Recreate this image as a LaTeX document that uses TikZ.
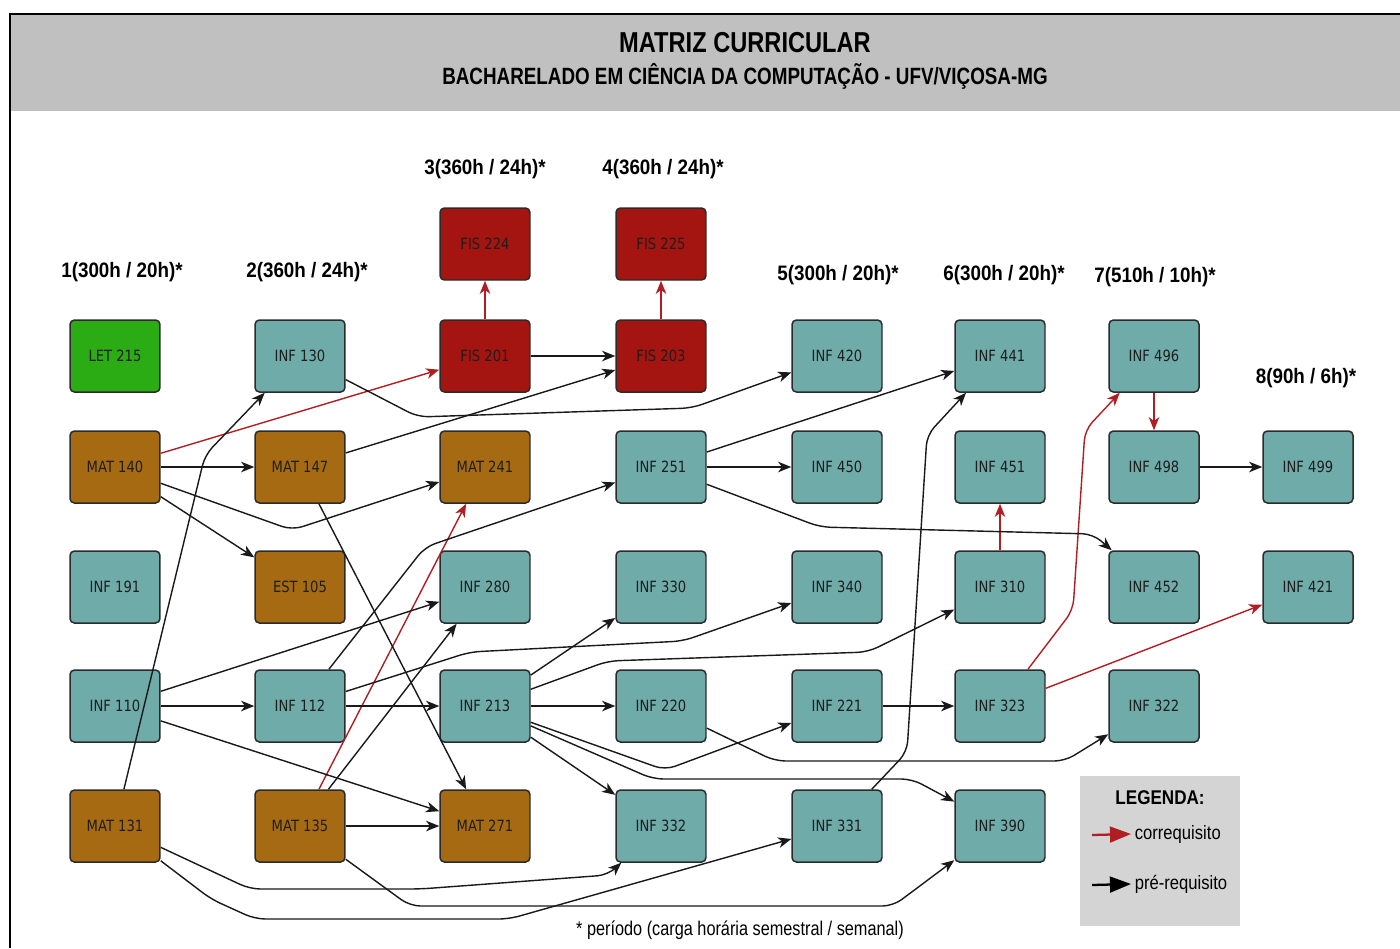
\documentclass[tikz,border=0pt]{standalone}
\usepackage{fontspec}
\setmainfont{Liberation Sans}
\newfontfamily\headfont[FakeStretch=0.82]{Liberation Sans}
\newfontfamily\subheadfont[FakeStretch=0.80]{Liberation Sans}
\newfontfamily\periodfont[FakeStretch=0.9]{Liberation Sans}
\newfontfamily\legendfont[FakeStretch=0.86]{Liberation Sans}
\newfontfamily\coursefont[FakeStretch=0.85]{DejaVu Sans}
\usetikzlibrary{arrows.meta}

\definecolor{infcol}{HTML}{6EABA9}
\definecolor{matcol}{HTML}{A66B12}
\definecolor{fiscol}{HTML}{A41410}
\definecolor{letcol}{HTML}{2BAB14}
\definecolor{boxline}{HTML}{2B2B2B}
\definecolor{boxtext}{HTML}{1E1E1E}
\definecolor{coreqcol}{HTML}{B01E23}
\definecolor{headgray}{HTML}{C0C0C0}
\definecolor{legendgray}{HTML}{D4D4D4}

\tikzset{
	course/.style={draw=boxline, line width=0.85pt, rounded corners=2.5pt, minimum width=1.8cm, minimum height=1.44cm, inner sep=0pt, text=boxtext, font=\coursefont\fontsize{8.8}{10}\selectfont},
	infbox/.style={course, fill=infcol},
	matbox/.style={course, fill=matcol},
	fisbox/.style={course, fill=fiscol},
	letbox/.style={course, fill=letcol},
	periodlabel/.style={font=\periodfont\bfseries\fontsize{11.9}{14}\selectfont},
	prereq/.style={draw=black!90, line width=0.8pt, rounded corners=6pt, -{Stealth[length=7.5pt,width=6pt,inset=2.2pt]}},
	coreq/.style={prereq, draw=coreqcol},
	legendtext/.style={font=\legendfont\fontsize{11}{13}\selectfont, inner sep=2pt}
}

\begin{document}
\begin{tikzpicture}[x=0.02cm, y=-0.02cm]
	%%%%% START %%%%%
	\useasboundingbox (0,0) rectangle (1400,948);
	
	\fill[headgray] (10,14) rectangle (1400,111);
	\draw[line width=1.1pt] (10,948) -- (10,14) -- (1400,14);
	
	\node[font=\headfont\bfseries\fontsize{16.4}{19}\selectfont] (title) at (745,43) {MATRIZ CURRICULAR};
	\node[font=\subheadfont\bfseries\fontsize{13.4}{16}\selectfont] (subtitle) at (745,76) {BACHARELADO EM CIÊNCIA DA COMPUTAÇÃO - UFV/VIÇOSA-MG};
	
	%%%%% PERIODS %%%%%
	\node[periodlabel] (per1) at (122,272) {1(300h / 20h)*};
	\node[periodlabel] (per2) at (307,272) {2(360h / 24h)*};
	\node[periodlabel] (per3) at (485,169) {3(360h / 24h)*};
	\node[periodlabel] (per4) at (663,169) {4(360h / 24h)*};
	\node[periodlabel] (per5) at (838,275) {5(300h / 20h)*};
	\node[periodlabel] (per6) at (1004,275) {6(300h / 20h)*};
	\node[periodlabel] (per7) at (1155,277) {7(510h / 10h)*};
	\node[periodlabel] (per8) at (1306,378) {8(90h / 6h)*};
	
	%%%%% COURSES %%%%%
	\node[letbox] (let215) at (115,356) {LET 215};
	\node[matbox] (mat140) at (115,467) {MAT 140};
	\node[infbox] (inf191) at (115,587) {INF 191};
	\node[infbox] (inf110) at (115,706) {INF 110};
	\node[matbox] (mat131) at (115,826) {MAT 131};
	
	\node[infbox] (inf130) at (300,356) {INF 130};
	\node[matbox] (mat147) at (300,467) {MAT 147};
	\node[matbox] (est105) at (300,587) {EST 105};
	\node[infbox] (inf112) at (300,706) {INF 112};
	\node[matbox] (mat135) at (300,826) {MAT 135};
	
	\node[fisbox] (fis224) at (485,244) {FIS 224};
	\node[fisbox] (fis201) at (485,356) {FIS 201};
	\node[matbox] (mat241) at (485,467) {MAT 241};
	\node[infbox] (inf280) at (485,587) {INF 280};
	\node[infbox] (inf213) at (485,706) {INF 213};
	\node[matbox] (mat271) at (485,826) {MAT 271};
	
	\node[fisbox] (fis225) at (661,244) {FIS 225};
	\node[fisbox] (fis203) at (661,356) {FIS 203};
	\node[infbox] (inf251) at (661,467) {INF 251};
	\node[infbox] (inf330) at (661,587) {INF 330};
	\node[infbox] (inf220) at (661,706) {INF 220};
	\node[infbox] (inf332) at (661,826) {INF 332};
	
	\node[infbox] (inf420) at (837,356) {INF 420};
	\node[infbox] (inf450) at (837,467) {INF 450};
	\node[infbox] (inf340) at (837,587) {INF 340};
	\node[infbox] (inf221) at (837,706) {INF 221};
	\node[infbox] (inf331) at (837,826) {INF 331};
	
	\node[infbox] (inf441) at (1000,356) {INF 441};
	\node[infbox] (inf451) at (1000,467) {INF 451};
	\node[infbox] (inf310) at (1000,587) {INF 310};
	\node[infbox] (inf323) at (1000,706) {INF 323};
	\node[infbox] (inf390) at (1000,826) {INF 390};
	
	\node[infbox] (inf496) at (1154,356) {INF 496};
	\node[infbox] (inf498) at (1154,467) {INF 498};
	\node[infbox] (inf452) at (1154,587) {INF 452};
	\node[infbox] (inf322) at (1154,706) {INF 322};
	
	\node[infbox] (inf499) at (1308,467) {INF 499};
	\node[infbox] (inf421) at (1308,587) {INF 421};
	
	%%%%% CORREQUISITOS %%%%%
	\draw[coreq] (fis201) -- (fis224);
	\draw[coreq] (fis203) -- (fis225);
	\draw[coreq] (mat140) -- (fis201);
	\draw[coreq] (mat135) -- (mat241);
	\draw[coreq] (inf310) -- (inf451);
	\draw[coreq] (inf496) -- (inf498);
	\draw[coreq] (inf323) -- (1073,610) -- (1085,430) -- (inf496);
	\draw[coreq] (inf323) -- (inf421);
	
	%%%%% PRE-REQUISITOS %%%%%
	\draw[prereq] (fis201) -- (fis203);
	\draw[prereq] (mat147) -- (fis203);
	\draw[prereq] (inf130) -- (418,417) -- (692,408) -- (inf420);
	\draw[prereq] (mat131) -- (205,455) -- (inf130);
	\draw[prereq] (mat140) -- (mat147);
	\draw[prereq] (mat140) -- (292,530) -- (mat241);
	\draw[prereq] (mat140) -- (est105);
	\draw[prereq] (mat147) -- (mat271);
	
	\draw[prereq] (inf110) -- (inf112);
	\draw[prereq] (inf110) -- (inf280);
	\draw[prereq] (inf110) -- (mat271);
	\draw[prereq] (inf112) -- (inf213);
	\draw[prereq] (inf112) -- (425,547) -- (inf251);
	\draw[prereq] (inf112) -- (470,652) -- (683,641) -- (inf340);
	\draw[prereq] (mat135) -- (inf280);
	\draw[prereq] (mat135) -- (mat271);
	\draw[prereq] (mat135) -- (410,906) -- (893,906) -- (inf390);
	\draw[prereq] (mat131) -- (250,889) -- (420,889) -- (608,875) -- (inf332);
	\draw[prereq] (mat131) -- (211,899) -- (255,919) -- (509,919) -- (inf331);
	
	\draw[prereq] (inf213) -- (inf330);
	\draw[prereq] (inf213) -- (608,661) -- (868,652) -- (inf310);
	\draw[prereq] (inf213) -- (inf220);
	\draw[prereq] (inf213) -- (665,770) -- (inf221);
	\draw[prereq] (inf213) -- (653,779) -- (912,779) -- (inf390);
	\draw[prereq] (inf213) -- (inf332);
	\draw[prereq] (inf220) -- (775,761) -- (1065,761) -- (inf322);
	\draw[prereq] (inf221) -- (inf323);
	\draw[prereq] (inf331) -- (907,752) -- (927,435) -- (inf441);
	\draw[prereq] (inf251) -- (inf441);
	\draw[prereq] (inf251) -- (inf450);
	\draw[prereq] (inf251) -- (820,527) -- (1093,534) -- (inf452);
	\draw[prereq] (inf498) -- (inf499);
	
	%%%%% LEGENDA %%%%%
	\fill[legendgray] (1080,776) rectangle (1240,926);
	\node[legendtext, font=\legendfont\bfseries\fontsize{11.3}{13}\selectfont] (legtitle) at (1160,798) {LEGENDA:};
	\node[legendtext, anchor=west] (legco) at (1131,834) {correquisito};
	\node[legendtext, anchor=west] (legpre) at (1131,884) {pré-requisito};
	\coordinate (legcostart) at (1092,835);
	\coordinate (legprestart) at (1092,885);
	\draw[coreqcol, line width=1.3pt, -{Triangle[length=12pt,width=9pt]}] (legcostart) -- (legco.west);
	\draw[black, line width=1.3pt, -{Triangle[length=12pt,width=9pt]}] (legprestart) -- (legpre.west);
	
	\node[font=\headfont\fontsize{11.3}{13}\selectfont] (note) at (740,930) {* período (carga horária semestral / semanal)};
	%%%%% END %%%%%
\end{tikzpicture}
\end{document}
